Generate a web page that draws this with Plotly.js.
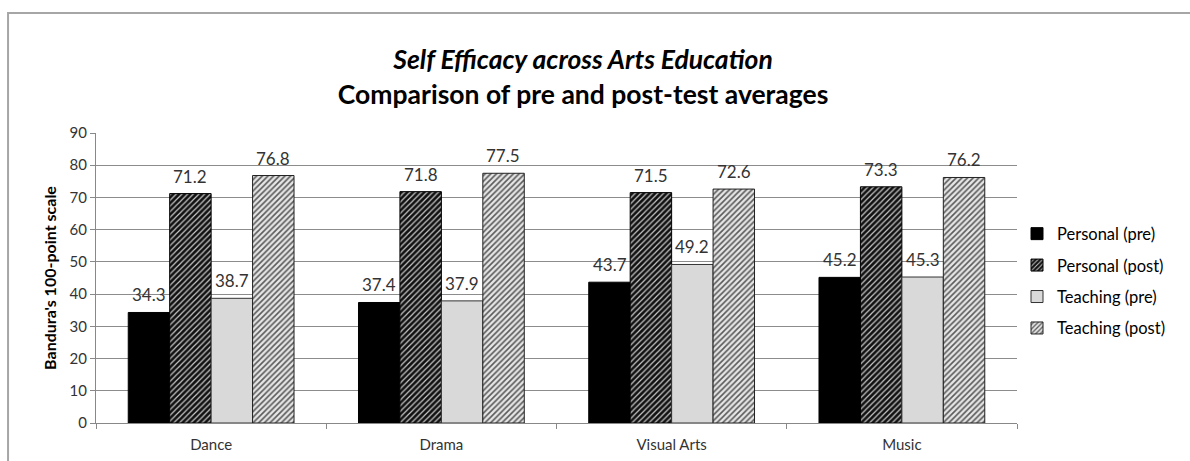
<!DOCTYPE html>
<html>
<head>
<meta charset="utf-8">
<script src="https://cdn.plot.ly/plotly-3.0.1.min.js"></script>
<style>
html,body{margin:0;padding:0;background:#fff;}
#chart{width:1190px;height:461px;}
</style>
</head>
<body>
<div id="chart"></div>
<script>
const categories = ["Dance", "Drama", "Visual Arts", "Music"];
const seriesNames = ["Personal (pre)", "Personal (post)", "Teaching (pre)", "Teaching (post)"];
const personalPre = [34.3, 37.4, 43.7, 45.2];
const personalPost = [71.2, 71.8, 71.5, 73.3];
const teachingPre = [38.7, 37.9, 49.2, 45.3];
const teachingPost = [76.8, 77.5, 72.6, 76.2];
const yTicks = [0, 10, 20, 30, 40, 50, 60, 70, 80, 90];

const seriesValues = [personalPre, personalPost, teachingPre, teachingPost];
const styles = [
  {color: "#000000", line: {color: "#000000", width: 1}},
  {color: "#1a1a1a", line: {color: "#000000", width: 1},
   pattern: {shape: "/", fgcolor: "#c8c8c8", bgcolor: "#111111", size: 4, solidity: 0.3}},
  {color: "#d9d9d9", line: {color: "#333333", width: 1}},
  {color: "#d9d9d9", line: {color: "#222222", width: 1},
   pattern: {shape: "/", fgcolor: "#5a5a5a", bgcolor: "#e6e6e6", size: 4, solidity: 0.4}}
];

const FONT = "Lato, 'Open Sans', sans-serif";

const traces = seriesValues.map((vals, i) => ({
  type: "bar",
  name: seriesNames[i],
  x: categories,
  y: vals,
  marker: styles[i],
  legendgroup: "g" + i,
  hoverinfo: "x+y+name"
}));

const barPx = 41.3;
const annotations = [];
seriesValues.forEach((vals, i) => {
  vals.forEach((v, j) => {
    annotations.push({
      x: categories[j], y: v, xref: "x", yref: "y",
      text: v.toFixed(1), showarrow: false,
      xshift: (i - 1.5) * barPx, yshift: 5, yanchor: "bottom",
      font: {family: FONT, size: 17, color: "#333333"}
    });
  });
});

const layout = {
  width: 1190, height: 461,
  margin: {l: 96, r: 173, t: 133, b: 38},
  paper_bgcolor: "#ffffff", plot_bgcolor: "#ffffff",
  title: {
    text: "<i>Self Efficacy across Arts Education</i><br>Comparison of pre and post-test averages",
    font: {family: FONT, size: 26.5, color: "#000000", weight: "bold"},
    x: 0.49, xanchor: "center", y: 0.85, yanchor: "top"
  },
  barmode: "group",
  bargap: 0.28,
  bargroupgap: 0,
  xaxis: {
    type: "category",
    showline: true, linecolor: "#888888", linewidth: 1,
    ticks: "outside", tickson: "boundaries", ticklen: 5, tickcolor: "#888888",
    ticklabelstandoff: 8,
    tickfont: {family: FONT, size: 15, color: "#333333"},
    showgrid: false, zeroline: false
  },
  yaxis: {
    range: [0, 90], tickvals: yTicks,
    showline: true, linecolor: "#888888", linewidth: 1,
    ticks: "outside", ticklen: 5, tickcolor: "#888888",
    showgrid: true, gridcolor: "#8c8c8c", gridwidth: 1, zeroline: false,
    tickfont: {family: FONT, size: 15, color: "#333333"},
    title: {text: "Bandura's 100-point scale", standoff: 8,
            font: {family: FONT, size: 16, color: "#000000", weight: "bold"}}
  },
  legend: {
    x: 1.0, xanchor: "left", y: 0.49, yanchor: "middle",
    traceorder: "grouped", tracegroupgap: 7,
    font: {family: FONT, size: 16.5, color: "#000000"},
    itemwidth: 30
  },
  annotations: annotations,
  shapes: [{
    type: "rect", xref: "paper", yref: "paper",
    x0: -0.0955, x1: 1.6, y0: -0.5, y1: 1.414,
    line: {color: "#a6a6a6", width: 2}, fillcolor: "rgba(0,0,0,0)", layer: "below"
  }]
};

Plotly.newPlot("chart", traces, layout, {displayModeBar: false, staticPlot: true});
</script>
</body>
</html>
